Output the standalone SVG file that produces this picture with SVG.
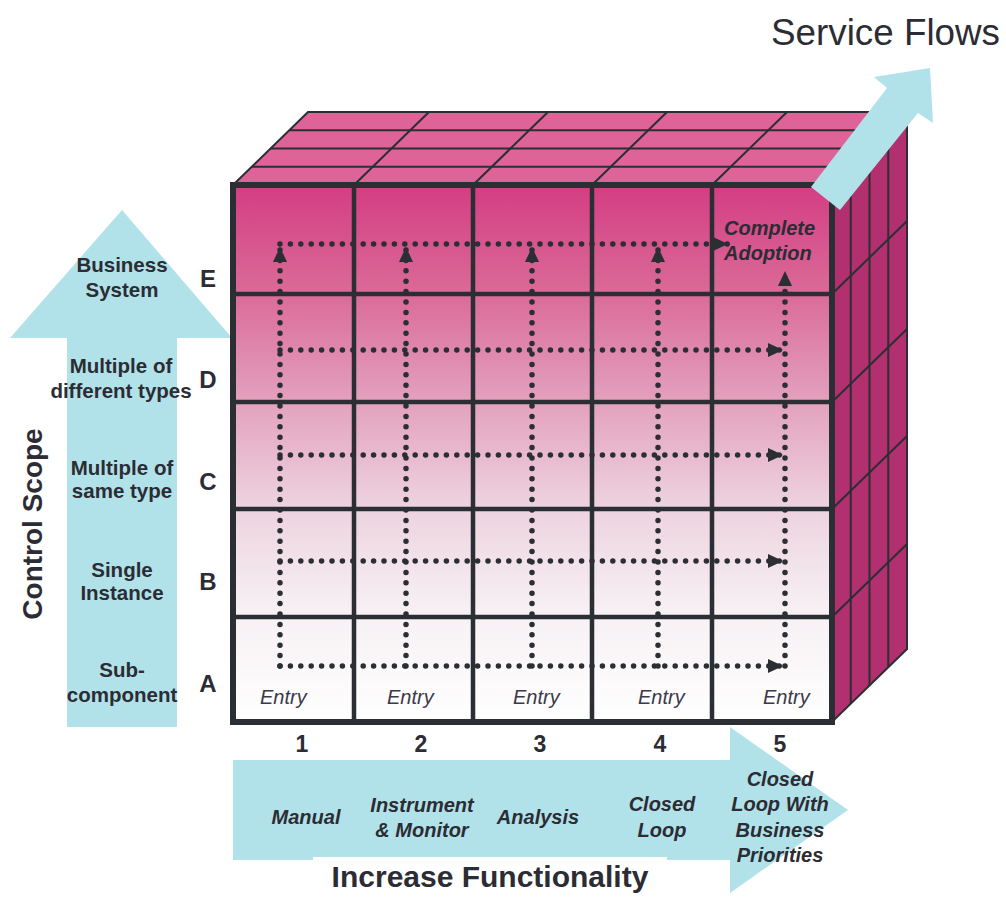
<svg xmlns="http://www.w3.org/2000/svg" width="1006" height="900" viewBox="0 0 1006 900">
<style>
.t{font-family:"Liberation Sans",Arial,Helvetica,sans-serif;fill:#2c2c34}
.lbl{font-weight:bold;font-size:20.5px;text-anchor:middle}
.let{font-weight:bold;font-size:24px;text-anchor:middle}
.num{font-weight:bold;font-size:23px;text-anchor:middle}
.entry{font-style:italic;font-size:20px;fill:#3a3a48}
.func{font-weight:bold;font-style:italic;font-size:20px;text-anchor:middle}
.title{font-weight:bold;font-size:30px;text-anchor:middle}
.blue{fill:#B2E2E9}
.grid{stroke:#2b2e33;fill:none}
.thin{stroke:#2b2e33;stroke-width:2;fill:none}
.dots{stroke:#2b2e33;stroke-width:5.5;stroke-linecap:round;stroke-dasharray:0 10.4;fill:none}
</style>
<defs>
<linearGradient id="frontGrad" x1="0" y1="185" x2="0" y2="722" gradientUnits="userSpaceOnUse">
<stop offset="0" stop-color="#D43D83"/>
<stop offset="0.2" stop-color="#DA6A98"/>
<stop offset="0.4" stop-color="#E3A0BD"/>
<stop offset="0.6" stop-color="#EDD3DF"/>
<stop offset="0.8" stop-color="#F7F1F4"/>
<stop offset="1" stop-color="#FFFFFF"/>
</linearGradient>
<marker id="ah" viewBox="0 0 15 14" refX="15" refY="7" markerWidth="15" markerHeight="14" markerUnits="userSpaceOnUse" orient="auto">
<path d="M0,0 L15,7 L0,14 Z" fill="#2b2e33"/>
</marker>
</defs>
<rect width="1006" height="900" fill="#FFFFFF"/>

<g id="control-scope-arrow">
<polygon class="blue" points="122,210 232,338 177,338 177,727 67,727 67,338 10,338"/>
<text class="t" font-weight="bold" font-size="28" text-anchor="middle" transform="translate(42,524) rotate(-90)">Control Scope</text>
</g>

<g id="functionality-arrow">
<polygon class="blue" points="233,760 730,760 730,727 848,810 730,893 730,860 233,860"/>
<rect x="313" y="857" width="354" height="43" fill="#FFFFFF"/>
<text class="t title" x="490" y="887">Increase Functionality</text>
</g>

<g id="cube">
<polygon points="233,185 308,112 907,112 832,185" fill="#DE6398"/>
<polygon points="832,185 907,112 907,649 832,722" fill="#B2306F"/>
<g class="thin">
<polygon points="233,185 308,112 907,112 832,185"/>
<polygon points="832,185 907,112 907,649 832,722"/>
<line x1="251.75" y1="166.75" x2="850.75" y2="166.75"/>
<line x1="270.5" y1="148.5" x2="869.5" y2="148.5"/>
<line x1="289.25" y1="130.25" x2="888.25" y2="130.25"/>
<line x1="354" y1="185" x2="429" y2="112"/>
<line x1="473" y1="185" x2="548" y2="112"/>
<line x1="592" y1="185" x2="667" y2="112"/>
<line x1="712" y1="185" x2="787" y2="112"/>
<line x1="850.75" y1="166.75" x2="850.75" y2="703.75"/>
<line x1="869.5" y1="148.5" x2="869.5" y2="685.5"/>
<line x1="888.25" y1="130.25" x2="888.25" y2="667.25"/>
<line x1="832" y1="294" x2="907" y2="221"/>
<line x1="832" y1="402" x2="907" y2="329"/>
<line x1="832" y1="509" x2="907" y2="436"/>
<line x1="832" y1="617" x2="907" y2="544"/>
</g>
<rect x="233" y="185" width="599" height="537" fill="url(#frontGrad)"/>
<g class="grid" stroke-width="4.5">
<line x1="354" y1="185" x2="354" y2="722"/>
<line x1="473" y1="185" x2="473" y2="722"/>
<line x1="592" y1="185" x2="592" y2="722"/>
<line x1="712" y1="185" x2="712" y2="722"/>
<line x1="233" y1="294" x2="832" y2="294"/>
<line x1="233" y1="402" x2="832" y2="402"/>
<line x1="233" y1="509" x2="832" y2="509"/>
<line x1="233" y1="617" x2="832" y2="617"/>
</g>
<rect class="grid" x="233" y="185" width="599" height="537" stroke-width="6"/>
</g>

<g id="connectors">
<line class="dots" x1="280" y1="244" x2="728" y2="244" marker-end="url(#ah)"/>
<line class="dots" x1="280" y1="350" x2="783" y2="350" marker-end="url(#ah)"/>
<line class="dots" x1="280" y1="455" x2="783" y2="455" marker-end="url(#ah)"/>
<line class="dots" x1="280" y1="561" x2="783" y2="561" marker-end="url(#ah)"/>
<line class="dots" x1="280" y1="666" x2="783" y2="666" marker-end="url(#ah)"/>
<line class="dots" x1="280" y1="666" x2="280" y2="247" marker-end="url(#ah)"/>
<line class="dots" x1="406" y1="666" x2="406" y2="247" marker-end="url(#ah)"/>
<line class="dots" x1="532" y1="666" x2="532" y2="247" marker-end="url(#ah)"/>
<line class="dots" x1="658" y1="666" x2="658" y2="247" marker-end="url(#ah)"/>
<line class="dots" x1="785" y1="666" x2="785" y2="271" marker-end="url(#ah)"/>
</g>

<g id="service-flows-arrow">
<polygon class="blue" points="811,187 887,88 874,77 930,68 933,123 918,113 840,210"/>
<text class="t" x="771" y="45" font-size="36.8">Service Flows</text>
</g>

<g id="complete-adoption">
<text class="t" x="724" y="235" font-weight="bold" font-style="italic" font-size="20" fill="#3b2a44">Complete</text>
<text class="t" x="724" y="260" font-weight="bold" font-style="italic" font-size="20" fill="#3b2a44">Adoption</text>
</g>

<g id="scope-labels">
<text class="t lbl" x="122" y="272">Business</text>
<text class="t lbl" x="122" y="297">System</text>
<text class="t lbl" x="121" y="373">Multiple of</text>
<text class="t lbl" x="121" y="398">different types</text>
<text class="t lbl" x="122" y="475">Multiple of</text>
<text class="t lbl" x="122" y="498">same type</text>
<text class="t lbl" x="122" y="577">Single</text>
<text class="t lbl" x="122" y="600">Instance</text>
<text class="t lbl" x="122" y="677">Sub-</text>
<text class="t lbl" x="122" y="702">component</text>
</g>

<g id="row-letters">
<text class="t let" x="208" y="287">E</text>
<text class="t let" x="208" y="388">D</text>
<text class="t let" x="208" y="490">C</text>
<text class="t let" x="208" y="590">B</text>
<text class="t let" x="208" y="692">A</text>
</g>

<g id="entries">
<text class="t entry" x="260" y="704">Entry</text>
<text class="t entry" x="387" y="704">Entry</text>
<text class="t entry" x="513" y="704">Entry</text>
<text class="t entry" x="638" y="704">Entry</text>
<text class="t entry" x="763" y="704">Entry</text>
</g>

<g id="column-numbers">
<text class="t num" x="302" y="752">1</text>
<text class="t num" x="421" y="752">2</text>
<text class="t num" x="540" y="752">3</text>
<text class="t num" x="660" y="752">4</text>
<text class="t num" x="780" y="752">5</text>
</g>

<g id="function-labels">
<text class="t func" x="306" y="824">Manual</text>
<text class="t func" x="422" y="812">Instrument</text>
<text class="t func" x="422" y="837">&amp; Monitor</text>
<text class="t func" x="538" y="824">Analysis</text>
<text class="t func" x="662" y="811">Closed</text>
<text class="t func" x="662" y="837">Loop</text>
<text class="t func" x="780" y="786">Closed</text>
<text class="t func" x="780" y="811">Loop With</text>
<text class="t func" x="780" y="837">Business</text>
<text class="t func" x="780" y="862">Priorities</text>
</g>
</svg>
